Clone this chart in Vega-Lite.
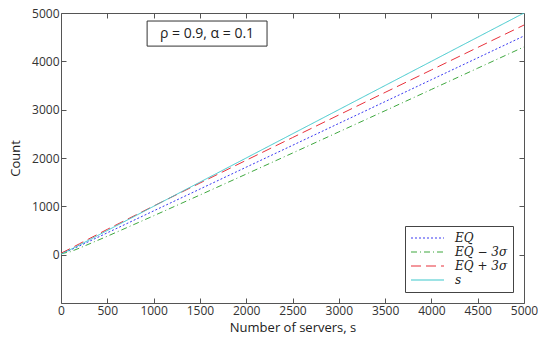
{
  "$schema": "https://vega.github.io/schema/vega-lite/v6.json",
  "width": 463,
  "height": 290,
  "autosize": {"type": "none"},
  "padding": {"left": 61, "top": 13, "right": 14, "bottom": 38},
  "background": "white",
  "config": {
    "view": {"stroke": "#555555", "strokeWidth": 1},
    "font": "Open Sans",
    "axis": {"domain": false, "grid": false, "labelFont": "Open Sans", "labelFontSize": 12, "labelColor": "#333", "labelFlush": false, "titleFont": "Open Sans", "titleFontWeight": "normal", "titleFontSize": 13, "titleColor": "#222", "tickColor": "#555", "tickSize": -5, "format": "d"}
  },
  "datasets": {
    "lines": [
      {"s": 0, "series": "EQ", "value": 20},
      {"s": 100, "series": "EQ", "value": 95},
      {"s": 200, "series": "EQ", "value": 181},
      {"s": 500, "series": "EQ", "value": 452},
      {"s": 1000, "series": "EQ", "value": 905},
      {"s": 1500, "series": "EQ", "value": 1357},
      {"s": 2000, "series": "EQ", "value": 1810},
      {"s": 2500, "series": "EQ", "value": 2262},
      {"s": 3000, "series": "EQ", "value": 2715},
      {"s": 3500, "series": "EQ", "value": 3167},
      {"s": 4000, "series": "EQ", "value": 3620},
      {"s": 4500, "series": "EQ", "value": 4072},
      {"s": 5000, "series": "EQ", "value": 4525},
      {"s": 0, "series": "EQ − 3σ", "value": 20},
      {"s": 100, "series": "EQ − 3σ", "value": 60},
      {"s": 200, "series": "EQ − 3σ", "value": 136},
      {"s": 500, "series": "EQ − 3σ", "value": 381},
      {"s": 1000, "series": "EQ − 3σ", "value": 804},
      {"s": 1500, "series": "EQ − 3σ", "value": 1234},
      {"s": 2000, "series": "EQ − 3σ", "value": 1667},
      {"s": 2500, "series": "EQ − 3σ", "value": 2102},
      {"s": 3000, "series": "EQ − 3σ", "value": 2540},
      {"s": 3500, "series": "EQ − 3σ", "value": 2978},
      {"s": 4000, "series": "EQ − 3σ", "value": 3418},
      {"s": 4500, "series": "EQ − 3σ", "value": 3858},
      {"s": 5000, "series": "EQ − 3σ", "value": 4299},
      {"s": 0, "series": "EQ + 3σ", "value": 30},
      {"s": 100, "series": "EQ + 3σ", "value": 125},
      {"s": 200, "series": "EQ + 3σ", "value": 226},
      {"s": 500, "series": "EQ + 3σ", "value": 524},
      {"s": 1000, "series": "EQ + 3σ", "value": 1006},
      {"s": 1500, "series": "EQ + 3σ", "value": 1481},
      {"s": 2000, "series": "EQ + 3σ", "value": 1953},
      {"s": 2500, "series": "EQ + 3σ", "value": 2422},
      {"s": 3000, "series": "EQ + 3σ", "value": 2890},
      {"s": 3500, "series": "EQ + 3σ", "value": 3357},
      {"s": 4000, "series": "EQ + 3σ", "value": 3822},
      {"s": 4500, "series": "EQ + 3σ", "value": 4287},
      {"s": 5000, "series": "EQ + 3σ", "value": 4751},
      {"s": 0, "series": "s", "value": 10},
      {"s": 100, "series": "s", "value": 105},
      {"s": 200, "series": "s", "value": 200},
      {"s": 500, "series": "s", "value": 500},
      {"s": 1000, "series": "s", "value": 1000},
      {"s": 1500, "series": "s", "value": 1500},
      {"s": 2000, "series": "s", "value": 2000},
      {"s": 2500, "series": "s", "value": 2500},
      {"s": 3000, "series": "s", "value": 3000},
      {"s": 3500, "series": "s", "value": 3500},
      {"s": 4000, "series": "s", "value": 4000},
      {"s": 4500, "series": "s", "value": 4500},
      {"s": 5000, "series": "s", "value": 5000}
    ],
    "note": [
      {"x1": 930, "x2": 2225, "y1": 4315, "y2": 4834, "xc": 1577, "yc": 4575, "label": "ρ = 0.9, α = 0.1"}
    ]
  },
  "layer": [
    {
      "data": {"name": "lines"},
      "mark": {"type": "line", "strokeWidth": 1, "clip": true},
      "encoding": {
        "x": {"field": "s", "type": "quantitative", "scale": {"domain": [0, 5000], "nice": false},
          "axis": {"orient": "bottom", "title": "Number of servers, s", "values": [0, 500, 1000, 1500, 2000, 2500, 3000, 3500, 4000, 4500, 5000], "labelPadding": 7, "titlePadding": 5}},
        "y": {"field": "value", "type": "quantitative", "scale": {"domain": [-1000, 5000], "nice": false},
          "axis": {"orient": "left", "title": "Count", "values": [0, 1000, 2000, 3000, 4000, 5000], "labelPadding": 7, "titlePadding": 9}},
        "color": {"field": "series", "type": "nominal",
          "scale": {"domain": ["EQ", "EQ − 3σ", "EQ + 3σ", "s"], "range": ["#3a3af2", "#3fa83f", "#e8303a", "#3cc8cc"]},
          "legend": {"title": null, "orient": "bottom-right", "offset": 11, "strokeColor": "#444", "fillColor": "white", "padding": 5,
            "symbolType": "stroke", "symbolSize": 1089, "symbolStrokeWidth": 1.2, "rowPadding": 0, "clipHeight": 14,
            "labelFont": "DejaVu Serif", "labelFontStyle": "italic", "labelFontSize": 12, "labelColor": "#222", "labelOffset": 10}},
        "strokeDash": {"field": "series", "type": "nominal",
          "scale": {"domain": ["EQ", "EQ − 3σ", "EQ + 3σ", "s"], "range": [[2, 2], [6, 3, 1, 3], [10, 5], [1, 0]]},
          "legend": {"title": null}},
        "order": {"field": "s", "type": "quantitative"}
      }
    },
    {
      "data": {"name": "lines"},
      "mark": {"type": "rule", "opacity": 0},
      "encoding": {
        "x": {"field": "s", "type": "quantitative", "axis": {"orient": "top", "title": null, "labels": false, "values": [500, 1000, 1500, 2000, 2500, 3000, 3500, 4000, 4500]}},
        "y": {"field": "value", "type": "quantitative", "axis": {"orient": "right", "title": null, "labels": false, "values": [0, 1000, 2000, 3000, 4000]}}
      }
    },
    {
      "data": {"name": "note"},
      "mark": {"type": "rect", "fill": "white", "stroke": "#333", "strokeWidth": 1},
      "encoding": {
        "x": {"field": "x1", "type": "quantitative", "axis": null},
        "x2": {"field": "x2"},
        "y": {"field": "y1", "type": "quantitative", "axis": null},
        "y2": {"field": "y2"}
      }
    },
    {
      "data": {"name": "note"},
      "mark": {"type": "text", "font": "Open Sans", "fontSize": 14, "color": "#222"},
      "encoding": {
        "x": {"field": "xc", "type": "quantitative", "axis": null},
        "y": {"field": "yc", "type": "quantitative", "axis": null},
        "text": {"field": "label"}
      }
    }
  ]
}
